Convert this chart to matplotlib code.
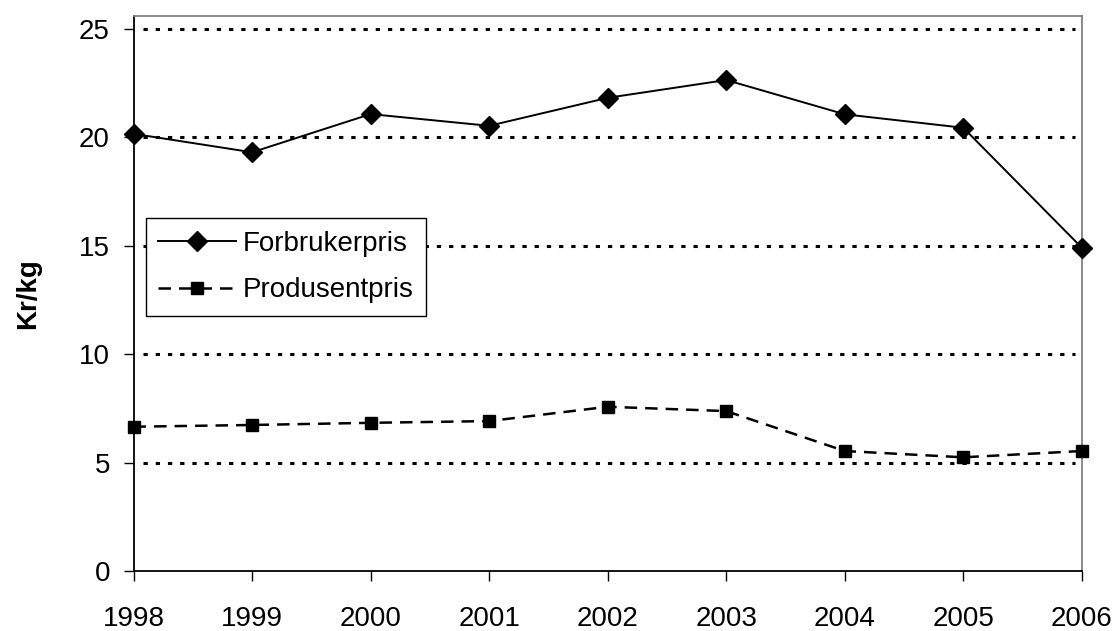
import matplotlib
matplotlib.use("Agg")
import matplotlib.pyplot as plt
from matplotlib import font_manager

years = ["1998", "1999", "2000", "2001", "2002", "2003", "2004", "2005", "2006"]
forbrukerpris = [20.15, 19.3, 21.06, 20.52, 21.81, 22.63, 21.05, 20.43, 14.9]
produsentpris = [6.65, 6.73, 6.83, 6.91, 7.57, 7.37, 5.53, 5.24, 5.53]
yticks = [0, 5, 10, 15, 20, 25]

names = {f.name for f in font_manager.fontManager.ttflist}
fam = [f for f in ["Liberation Sans Narrow", "Liberation Sans", "DejaVu Sans"] if f in names]
plt.rcParams['font.family'] = fam

FS = 20

fig = plt.figure(figsize=(11.13, 6.31), dpi=100)
ax = fig.add_axes([0.120, 0.0951, 0.852, 0.8795])

x = list(range(len(years)))
ax.plot(x, forbrukerpris, color="black", lw=1.4, marker="D", ms=10,
        label="Forbrukerpris", clip_on=False, zorder=3)
ax.plot(x, produsentpris, color="black", lw=1.8, marker="s", ms=9,
        dashes=(5.0, 3.2), label="Produsentpris", clip_on=False, zorder=3)

ax.set_xlim(0, len(years) - 1)
ax.set_ylim(0, 25.58)
ax.set_xticks(x)
ax.set_xticklabels(years)
ax.set_yticks(yticks)
ax.tick_params(axis="both", labelsize=FS, length=7, width=1, direction="out")
ax.tick_params(axis="x", pad=18)
ax.tick_params(axis="y", pad=10)

for yv in yticks[1:]:
    ax.axhline(yv, xmin=0.01, xmax=0.993, color="black", lw=2.2,
               dashes=(1.4, 2.6), zorder=1)

for s in ["left", "bottom"]:
    ax.spines[s].set_color("black")
    ax.spines[s].set_linewidth(1.3)
for s in ["top", "right"]:
    ax.spines[s].set_color("#808080")
    ax.spines[s].set_linewidth(1.3)

ax.set_ylabel("Kr/kg", fontsize=FS, fontweight="bold")
ax.yaxis.set_label_coords(-0.097, 0.5)

leg = ax.legend(loc="upper left", bbox_to_anchor=(0.013, 0.636), borderaxespad=0,
                fontsize=FS, handlelength=2.8, fancybox=False, framealpha=1,
                edgecolor="black", borderpad=0.45, labelspacing=0.75,
                handletextpad=0.25)
leg.get_frame().set_linewidth(1.0)

fig.savefig("out.png", dpi=100)
